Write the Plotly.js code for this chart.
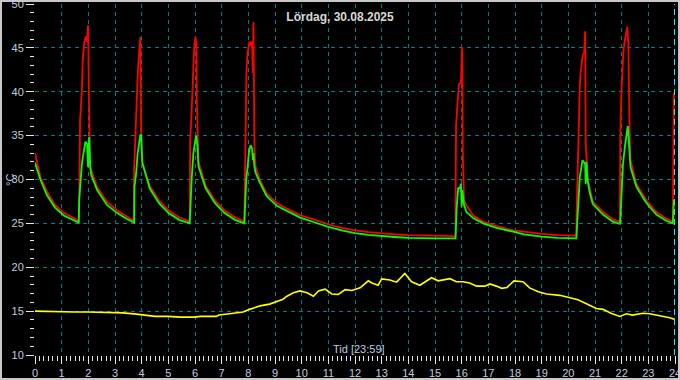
<!DOCTYPE html>
<html>
<head>
<meta charset="utf-8">
<script src="https://cdn.plot.ly/plotly-3.0.1.min.js"></script>
<style>
  html, body { margin: 0; padding: 0; background: #000; }
  #wrap { position: relative; width: 680px; height: 380px; }
  #chart { width: 680px; height: 380px; }
  #frame { position: absolute; left: 0; top: 0; width: 676px; height: 376px; border: 2px solid #c8c8c8; pointer-events: none; }
</style>
</head>
<body>
<div id="wrap"><div id="chart"></div><div id="frame"></div></div>
<script>
// ---- data (hours of day, °C) ----
const redHours = [0.0,0.2,0.45,0.75,1.08,1.39,1.64,1.66,1.69,1.76,1.79,1.85,1.91,1.95,1.99,2.02,2.05,2.07,2.33,2.7,3.07,3.45,3.7,
  3.72,3.76,3.82,3.86,3.90,3.92,3.95,3.98,4.02,4.3,4.65,5.0,5.4,5.8,
  5.82,5.86,5.9,5.93,5.97,6.02,6.05,6.07,6.13,6.4,6.75,7.1,7.5,7.85,
  7.86,7.88,7.91,7.93,7.97,8.0,8.04,8.08,8.1,8.14,8.17,8.19,8.2,8.23,8.27,8.44,8.69,9.07,9.44,9.94,
  10.5,11.0,11.5,12.0,12.5,13.0,13.5,14.0,14.5,15.0,15.77,
  15.775,15.79,15.85,15.9,15.97,15.99,16.02,16.04,16.07,16.09,16.18,16.43,16.8,17.31,17.93,18.3,19.0,19.6,20.3,
  20.31,20.34,20.39,20.43,20.46,20.5,20.54,20.59,20.63,20.65,20.68,20.72,20.76,20.92,21.3,21.67,21.93,
  21.95,21.99,22.02,22.06,22.1,22.14,22.18,22.21,22.25,22.27,22.3,22.33,22.55,22.92,23.3,23.67,23.92,23.96,24.0];
const redTemps = [33.0,30.3,28.6,27.1,26.2,25.7,25.3,27.8,36.8,40.2,43.6,45.7,46.3,45.7,47.6,39.4,33.0,31.4,29.15,27.45,26.5,25.75,25.3,
  31.4,34.5,40.5,42.45,44.35,45.9,46.25,35.6,31.8,29.3,27.6,26.5,25.7,25.2,
  34.5,36.75,40.5,42.8,45.1,46.25,45.5,38.7,32.0,29.3,27.6,26.5,25.7,25.2,
  28.4,33.7,39.4,42.45,44.35,45.1,45.7,45.2,45.7,45.5,42.1,47.95,37.1,33.3,31.5,29.9,28.4,27.3,26.7,25.95,
  25.4,24.9,24.5,24.2,24.0,23.85,23.75,23.65,23.6,23.55,23.55,
  29.9,36.1,39.0,40.9,41.0,43.8,45.1,33.4,29.15,27.6,27.05,25.9,25.2,24.7,24.2,24.05,23.8,23.65,23.6,
  26.1,30.7,37.9,40.7,42.1,43.6,44.2,44.35,46.9,34.1,31.8,30.4,29.6,27.45,26.3,25.45,25.2,
  35.2,39.8,42.8,44.35,45.5,46.4,47.0,47.4,45.5,39.6,35.2,32.2,29.5,27.65,26.3,25.55,25.2,39.8,39.8];

const greenHours = [0.0,0.2,0.45,0.75,1.08,1.39,1.64,1.66,1.7,1.76,1.82,1.89,1.95,1.99,2.03,2.07,2.11,2.33,2.7,3.07,3.45,3.72,
  3.73,3.79,3.85,3.90,3.95,3.98,4.02,4.3,4.65,5.0,5.4,5.8,
  5.82,5.88,5.94,6.01,6.04,6.09,6.13,6.4,6.75,7.1,7.5,7.85,
  7.87,7.92,7.97,8.03,8.09,8.14,8.17,8.19,8.23,8.27,8.44,8.69,9.07,9.44,9.94,10.5,11.0,11.5,12.0,12.5,13.0,13.5,14.0,14.5,15.0,15.77,
  15.81,15.87,15.93,15.97,16.0,16.02,16.06,16.09,16.18,16.43,16.8,17.31,17.93,18.34,19.0,19.6,20.3,
  20.34,20.39,20.43,20.49,20.53,20.58,20.63,20.65,20.68,20.72,20.81,20.92,21.3,21.67,21.93,
  21.95,21.99,22.05,22.12,22.18,22.23,22.26,22.3,22.33,22.55,22.92,23.3,23.67,23.92,23.96,24.0];
const greenTemps = [31.9,30.0,28.2,26.8,25.9,25.45,25.1,27.8,29.5,31.8,33.0,34.3,34.1,31.4,34.85,31.4,30.5,28.8,27.1,26.2,25.5,25.1,
  29.2,30.6,33.0,34.2,35.05,35.05,32.0,29.0,27.3,26.2,25.4,25.0,
  26.9,30.3,33.0,34.6,35.0,33.9,31.5,29.0,27.3,26.2,25.4,25.0,
  27.0,29.9,31.4,33.3,33.9,33.5,32.2,33.0,31.4,30.8,29.6,28.1,27.0,26.4,25.65,25.1,24.6,24.2,23.9,23.7,23.55,23.45,23.35,23.3,23.3,23.3,
  26.7,29.0,29.0,29.5,26.9,28.8,27.7,27.1,26.3,25.6,25.0,24.5,24.05,23.75,23.5,23.35,23.3,
  25.35,28.8,30.3,31.4,32.2,32.0,31.8,29.5,32.0,29.9,28.4,27.2,26.0,25.2,24.95,
  25.35,28.4,31.8,33.7,35.2,36.1,34.85,32.2,31.4,29.2,27.35,26.0,25.3,25.0,27.6,27.6];

const yellowHours = [0.0,0.5,1.0,1.5,2.0,2.7,3.3,3.8,4.3,4.5,5.0,5.45,6.0,6.2,6.8,6.9,7.3,7.8,8.05,8.44,8.8,9.07,9.3,9.45,9.69,9.94,
  10.2,10.44,10.63,10.88,11.13,11.37,11.63,11.88,12.19,12.5,12.63,12.87,13.0,13.31,13.56,13.87,14.12,14.43,14.87,15.12,15.56,15.8,
  16.05,16.3,16.56,16.87,17.06,17.3,17.5,17.7,17.96,18.3,18.55,18.87,19.18,19.68,20.05,20.36,20.68,21.05,21.3,21.6,21.93,
  22.18,22.4,22.8,23.05,23.43,23.8,24.0];
const yellowTemps = [15.0,14.95,14.9,14.9,14.9,14.85,14.8,14.66,14.5,14.4,14.4,14.32,14.32,14.4,14.4,14.55,14.7,14.9,15.2,15.6,15.8,16.1,16.36,16.7,17.1,17.3,
  17.1,16.7,17.3,17.5,16.95,16.9,17.45,17.35,17.65,18.45,18.2,17.95,18.67,18.55,18.3,19.3,18.35,17.95,18.8,18.45,18.7,18.35,
  18.35,18.2,17.85,17.85,18.1,17.85,17.6,17.7,18.45,18.35,17.65,17.2,16.95,16.8,16.5,16.3,15.85,15.3,15.2,14.75,14.4,
  14.7,14.55,14.75,14.7,14.5,14.25,14.05];

const nowHour = [24];
const titleText = 'Lördag, 30.08.2025';
const xTitleText = 'Tid [23:59]';
const yTitleText = '°C';

const tickFont = { family: 'Liberation Sans, Arial, sans-serif', size: 11, color: '#c0cce0' };
const gridCol = '#008080';

const traces = [
  { x: yellowHours, y: yellowTemps, type: 'scatter', mode: 'lines', line: { color: '#ffff00', width: 1.6 }, hoverinfo: 'skip' },
  { x: redHours, y: redTemps, type: 'scatter', mode: 'lines', line: { color: '#ff0000', width: 1.8 }, hoverinfo: 'skip' },
  { x: greenHours, y: greenTemps, type: 'scatter', mode: 'lines', line: { color: '#00ff00', width: 1.8 }, hoverinfo: 'skip' }
];

const layout = {
  width: 680, height: 380,
  paper_bgcolor: '#000', plot_bgcolor: '#000',
  margin: { l: 35, r: 5, t: 4, b: 25, pad: 0 },
  showlegend: false,
  title: { text: titleText, x: 0.5, xref: 'container', xanchor: 'center', y: 1 - 17/380, yref: 'container', yanchor: 'middle',
           font: { family: 'Liberation Sans, Arial, sans-serif', size: 12, weight: 'bold', color: '#d8d8d8' } },
  xaxis: {
    range: [0, 24], tick0: 0, dtick: 1, ticks: 'outside', ticklen: 8, tickwidth: 1, tickcolor: '#e8e8e8',
    tickfont: tickFont, ticklabeloverflow: 'allow', showgrid: true, gridcolor: gridCol, griddash: '4px,4px', gridwidth: 1,
    zeroline: false, showline: false, fixedrange: true,
    minor: { dtick: 1/6, ticks: 'outside', ticklen: 5, tickwidth: 1, tickcolor: '#e8e8e8', showgrid: false }
  },
  yaxis: {
    range: [10, 50], tick0: 10, dtick: 5, ticks: 'outside', ticklen: 8, tickwidth: 1, tickcolor: '#e8e8e8',
    tickfont: tickFont, ticklabeloverflow: 'allow', showgrid: true, gridcolor: gridCol, griddash: '4px,4px', gridwidth: 1,
    zeroline: false, showline: false, fixedrange: true,
    minor: { dtick: 1, ticks: 'outside', ticklen: 4, tickwidth: 1, tickcolor: '#e8e8e8', showgrid: false }
  },
  shapes: [
    { type: 'line', xref: 'x', yref: 'paper', x0: nowHour[0], x1: nowHour[0], y0: 0, y1: 1,
      line: { color: '#20e8ff', width: 2, dash: '6px,4px' } }
  ],
  annotations: [
    { text: xTitleText, xref: 'paper', yref: 'paper', x: (359 - 35) / 640, y: (355 - 349) / 351, xanchor: 'center', yanchor: 'middle',
      showarrow: false, font: { family: 'Liberation Sans, Arial, sans-serif', size: 11, color: '#c0cce0' } },
    { text: yTitleText, xref: 'paper', yref: 'paper', x: (10 - 35) / 640, y: (355 - 180) / 351, xanchor: 'center', yanchor: 'middle',
      textangle: -90, showarrow: false, font: { family: 'Liberation Sans, Arial, sans-serif', size: 11, color: '#c0cce0' } }
  ]
};

Plotly.newPlot('chart', traces, layout, { displayModeBar: false, staticPlot: true });
</script>
</body>
</html>
